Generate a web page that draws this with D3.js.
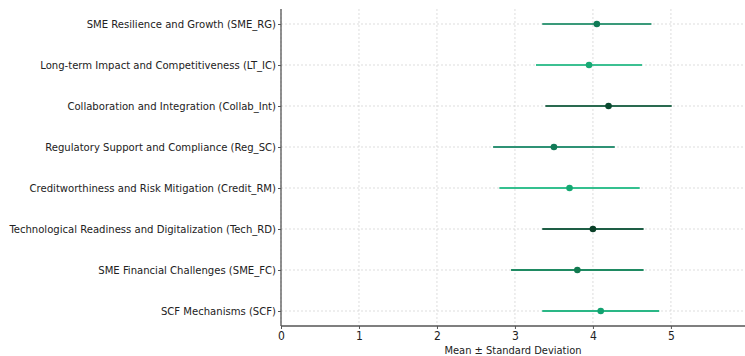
<!DOCTYPE html>
<html>
<head>
<meta charset="utf-8">
<script src="https://cdn.jsdelivr.net/npm/d3@7"></script>
<style>
  html, body { margin: 0; padding: 0; background: #fff; }
  svg { display: block; }
  .lbl { font-family: "DejaVu Sans Condensed", "DejaVu Sans", sans-serif; fill: #222; }
</style>
</head>
<body>
<svg id="chart" width="745" height="356"></svg>
<script>
// Construct labels, top to bottom
const constructs = [
  "SME Resilience and Growth (SME_RG)",
  "Long-term Impact and Competitiveness (LT_IC)",
  "Collaboration and Integration (Collab_Int)",
  "Regulatory Support and Compliance (Reg_SC)",
  "Creditworthiness and Risk Mitigation (Credit_RM)",
  "Technological Readiness and Digitalization (Tech_RD)",
  "SME Financial Challenges (SME_FC)",
  "SCF Mechanisms (SCF)"
];
const means = [4.05, 3.95, 4.20, 3.50, 3.70, 4.00, 3.80, 4.10];
const stdDevs = [0.70, 0.68, 0.81, 0.78, 0.90, 0.65, 0.85, 0.75];
const xTicks = [0, 1, 2, 3, 4, 5];

// Palette: error-bar line colour and marker colour per construct
const lineColors = ["#3a9a7a", "#3cc092", "#2a6a50", "#2f9275", "#34c08f", "#1e5e45", "#1f8a62", "#2ab786"];
const dotColors  = ["#0f7a55", "#18a974", "#0a4a30", "#137a57", "#15a872", "#0a4028", "#117a50", "#12a270"];

const svg = d3.select("#chart");
const margin = { left: 281, right: 0, top: 9, bottom: 30 };
const W = 745, H = 356;

const x = d3.scaleLinear().domain([0, 5.95]).range([margin.left, W - margin.right]);
const y = d3.scalePoint().domain(constructs).range([24, 311]);
const plotTop = margin.top, plotBottom = 326;

// Grid lines
const grid = svg.append("g");
grid.selectAll("line.vx").data(xTicks).join("line")
  .attr("x1", d => x(d)).attr("x2", d => x(d))
  .attr("y1", plotTop).attr("y2", plotBottom)
  .attr("stroke", "#d4d4d4").attr("stroke-width", 0.8).attr("stroke-dasharray", "2,2");
grid.selectAll("line.hy").data(constructs).join("line")
  .attr("x1", margin.left).attr("x2", W)
  .attr("y1", d => y(d)).attr("y2", d => y(d))
  .attr("stroke", "#d4d4d4").attr("stroke-width", 0.8).attr("stroke-dasharray", "2,2");

// Error bars: mean ± standard deviation
const rows = constructs.map((c, i) => ({ c, m: means[i], s: stdDevs[i], i }));
svg.append("g").selectAll("line").data(rows).join("line")
  .attr("x1", d => x(d.m - d.s)).attr("x2", d => x(d.m + d.s))
  .attr("y1", d => y(d.c)).attr("y2", d => y(d.c))
  .attr("stroke", d => lineColors[d.i]).attr("stroke-width", 2);
svg.append("g").selectAll("circle").data(rows).join("circle")
  .attr("cx", d => x(d.m)).attr("cy", d => y(d.c)).attr("r", 3.3)
  .attr("fill", d => dotColors[d.i]);

// Axes
const xAxis = svg.append("g").attr("transform", `translate(0,${plotBottom})`)
  .call(d3.axisBottom(x).tickValues(xTicks).tickFormat(d3.format("d")).tickSize(3).tickPadding(2));
const yAxis = svg.append("g").attr("transform", `translate(${margin.left},0)`)
  .call(d3.axisLeft(y).tickSize(3).tickPadding(2));
[xAxis, yAxis].forEach(a => {
  a.select(".domain").attr("stroke", "#555").attr("stroke-width", 1.3);
  a.selectAll(".tick line").attr("stroke", "#555");
  a.selectAll(".tick text").attr("class", "lbl").attr("fill", "#222");
});
yAxis.selectAll(".tick text").attr("font-size", 11.2);
xAxis.selectAll(".tick text").attr("font-size", 12);
yAxis.select(".domain").attr("d", `M-0,${plotTop}V${plotBottom}`);
xAxis.select(".domain").attr("d", `M${margin.left},0H${W}`);

svg.append("text").attr("class", "lbl")
  .attr("x", x.range()[0] + (x.range()[1] - x.range()[0]) / 2).attr("y", 354)
  .attr("text-anchor", "middle").attr("font-size", 11)
  .text("Mean ± Standard Deviation");
</script>
</body>
</html>
